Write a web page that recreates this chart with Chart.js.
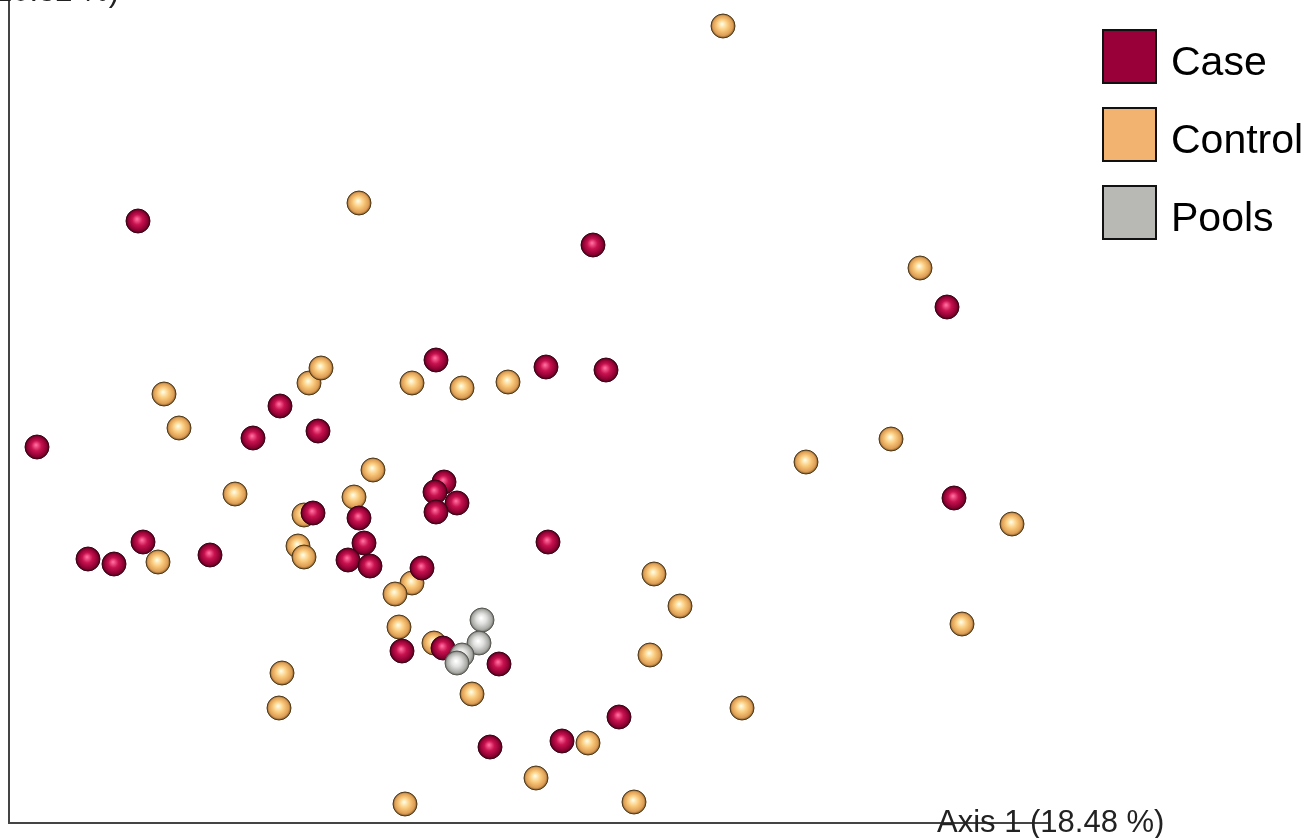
<!DOCTYPE html>
<html>
<head>
<meta charset="utf-8">
<script src="https://cdn.jsdelivr.net/npm/chart.js@4"></script>
<style>
  html, body { margin: 0; padding: 0; background: #fff; }
  #wrap { width: 1310px; height: 838px; position: relative; }
</style>
</head>
<body>
<div id="wrap"><canvas id="pcoa"></canvas></div>
<script>
'use strict';

// sample coordinates (plot units, origin at the axes corner)
const caseX = [129, 584, 938, 427, 537, 597, 271, 28, 244, 309, 435, 426, 448, 427, 350, 304,
               945, 539, 134, 79, 105, 201, 355, 339, 361, 413, 393, 434, 490, 610, 553, 481];
const caseY = [602, 578, 516, 463, 456, 453, 417, 376, 385, 392, 341, 331, 320, 311, 305, 310,
               325, 281, 281, 264, 259, 268, 280, 263, 257, 255, 172, 175, 159, 106, 82, 76];

const controlX = [714, 350, 911, 155, 170, 300, 312, 403, 453, 499, 882, 797, 364, 226, 345, 295,
                  1003, 289, 295, 149, 645, 403, 386, 671, 390, 953, 425, 641, 273, 463, 270, 733,
                  579, 527, 396, 625];
const controlY = [797, 620, 555, 429, 395, 440, 455, 440, 435, 441, 384, 361, 353, 329, 326, 308,
                  299, 277, 266, 261, 249, 240, 229, 217, 196, 199, 180, 168, 150, 129, 115, 115,
                  80, 45, 19, 21];

const poolX = [473, 470, 453, 448];
const poolY = [203, 180, 168, 160];

const groupNames = ['Case', 'Control', 'Pools'];
const axisLabels = ['Axis 1 (18.48 %)', 'Axis 2 (10.32 %)'];

const xRange = [0, 1038];
const yRange = [0, 823];

const palette = {
    Case:    { legend: '#99003a', stops: ['#ff6a9c', '#c8124f', '#8c0032', '#48001a'], border: '#3c0014' },
    Control: { legend: '#f1b36f', stops: ['#fffbe0', '#fbcd80', '#de9e54', '#7d5a2e'], border: '#4e3818' },
    Pools:   { legend: '#b8b9b4', stops: ['#ffffff', '#e0e0de', '#a9aaa6', '#6c6d69'], border: '#55564f' }
};

function toPoints(xs, ys) {
    return xs.map((x, i) => ({ x: x, y: ys[i] }));
}

// shaded ball look: radial gradient per point
function sphereFill(name) {
    const c = palette[name];
    return function (ctx) {
        if (ctx.type !== 'data' || !ctx.parsed) return c.legend;
        const chart = ctx.chart;
        if (!chart.scales.x || !chart.scales.y) return c.legend;
        const px = chart.scales.x.getPixelForValue(ctx.parsed.x);
        const py = chart.scales.y.getPixelForValue(ctx.parsed.y);
        if (!isFinite(px) || !isFinite(py)) return c.legend;
        const r = 12;
        const g = chart.ctx.createRadialGradient(px - 1, py - 2, 0.5, px, py, r);
        g.addColorStop(0, c.stops[0]);
        g.addColorStop(0.4, c.stops[1]);
        g.addColorStop(0.82, c.stops[2]);
        g.addColorStop(1, c.stops[3]);
        return g;
    };
}

function makeSet(name, xs, ys, order) {
    return {
        label: name,
        data: toPoints(xs, ys),
        order: order,
        pointRadius: 12,
        pointBorderWidth: 1,
        pointBackgroundColor: sphereFill(name),
        pointBorderColor: palette[name].border,
        clip: false
    };
}

const legendAndLabels = {
    id: 'legendAndLabels',
    afterDraw(chart) {
        const ctx = chart.ctx;
        ctx.save();
        // legend boxes on the right
        groupNames.forEach((name, i) => {
            const top = 30 + i * 78;
            ctx.fillStyle = palette[name].legend;
            ctx.fillRect(1103, top, 53, 53);
            ctx.lineWidth = 2;
            ctx.strokeStyle = '#111';
            ctx.strokeRect(1103, top, 53, 53);
            ctx.fillStyle = '#000';
            ctx.font = '41px "Liberation Sans", Arial, sans-serif';
            ctx.textBaseline = 'alphabetic';
            ctx.textAlign = 'left';
            ctx.fillText(name, 1171, top + 45);
        });
        // axis names at the end of each axis
        ctx.fillStyle = '#222';
        ctx.font = '31px "Liberation Sans", Arial, sans-serif';
        ctx.textAlign = 'left';
        ctx.fillText(axisLabels[0], 937, 832);
        ctx.textAlign = 'right';
        ctx.fillText(axisLabels[1], 119, 1);
        ctx.restore();
    }
};

const chart = new Chart(document.getElementById('pcoa'), {
    type: 'scatter',
    data: {
        datasets: [
            makeSet('Pools', poolX, poolY, 0),
            makeSet('Case', caseX, caseY, 1),
            makeSet('Control', controlX, controlY, 2)
        ]
    },
    options: {
        responsive: true,
        maintainAspectRatio: false,
        animation: false,
        events: [],
        layout: {
            autoPadding: false,
            // the hidden tick areas still take ~8px, so the padding is trimmed by that much
            padding: { left: 1, right: 263, top: 0, bottom: 7 }
        },
        scales: {
            x: {
                type: 'linear',
                min: xRange[0],
                max: xRange[1],
                grid: { display: false },
                ticks: { display: false },
                border: { display: true, color: '#444', width: 2 }
            },
            y: {
                type: 'linear',
                min: yRange[0],
                max: yRange[1],
                grid: { display: false },
                ticks: { display: false },
                border: { display: true, color: '#444', width: 2 }
            }
        },
        plugins: {
            legend: { display: false },
            tooltip: { enabled: false }
        }
    },
    plugins: [legendAndLabels]
});
chart.update();
</script>
</body>
</html>
